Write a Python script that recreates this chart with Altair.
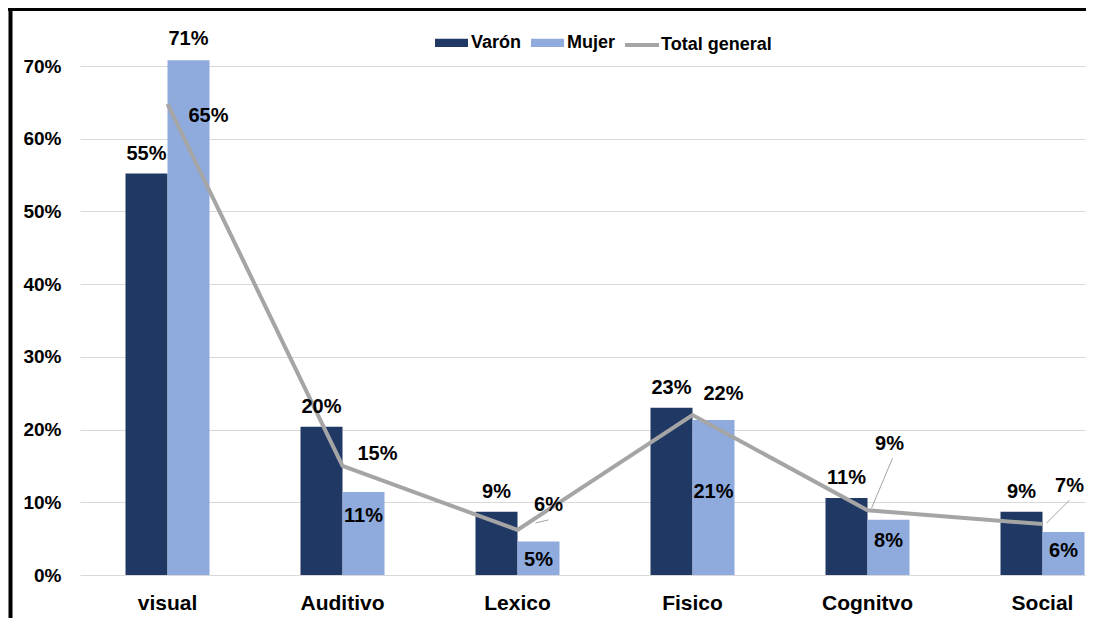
import altair as alt
import pandas as pd

CATEGORIES = ["visual", "Auditivo", "Lexico", "Fisico", "Cognitvo", "Social"]
SERIES = ["Varón", "Mujer"]
VARON = [0.552, 0.204, 0.087, 0.230, 0.106, 0.087]
MUJER = [0.708, 0.114, 0.046, 0.213, 0.076, 0.059]
TOTAL = [0.648, 0.150, 0.062, 0.220, 0.089, 0.070]
Y_TICKS = [0, 0.1, 0.2, 0.3, 0.4, 0.5, 0.6, 0.7]

# label placement (pixels)
VARON_LABEL_DY = -14
MUJER_LABEL_DY = [-15, 30, 24, 78, 27, 25]
TOTAL_LABEL_DX = [41, 35, 31, 31, 22, 27]
TOTAL_LABEL_DY = [18, -6, -19, -15, -60, -32]
LEADERS = {"Lexico": (18, -7, 31, -10), "Cognitvo": (4, -2, 25, -52), "Social": (4, -1, 27, -24)}

NAVY = "#203864"
LIGHT = "#8FAADC"
GRAY = "#A5A5A5"
FONT = "Liberation Sans"

bars_df = pd.DataFrame(
    [{"cat": c, "series": "Varón", "value": v} for c, v in zip(CATEGORIES, VARON)]
    + [{"cat": c, "series": "Mujer", "value": v} for c, v in zip(CATEGORIES, MUJER)]
)
total_df = pd.DataFrame({"cat": CATEGORIES, "series": ["Total general"] * 6, "value": TOTAL})

x_enc = alt.X(
    "cat:N", sort=CATEGORIES, title=None,
    scale=alt.Scale(range=[0, 1050], paddingInner=0, paddingOuter=0),
    axis=alt.Axis(labelAngle=0, labelFontSize=21, labelFont=FONT, labelFontWeight="bold",
                  labelColor="black", ticks=False, tickSize=0, domain=False, grid=False,
                  labelPadding=17),
)
y_enc = alt.Y(
    "value:Q", title=None,
    scale=alt.Scale(domain=[0, 0.7], nice=False, zero=True),
    axis=alt.Axis(format=".0%", values=Y_TICKS, labelFontSize=19, labelFont=FONT,
                  labelFontWeight="bold", labelColor="black", ticks=False, tickSize=0,
                  domain=False, grid=True, gridColor="#D9D9D9", gridWidth=1, labelPadding=19),
)
xoff = alt.XOffset("series:N", sort=SERIES,
                   scale=alt.Scale(domain=SERIES, range=[45.5, 129.5],
                                   paddingInner=0, paddingOuter=0))

bars = alt.Chart(bars_df).mark_bar().encode(
    x=x_enc, y=y_enc, xOffset=xoff,
    color=alt.Color("series:N", sort=SERIES,
                    scale=alt.Scale(domain=SERIES, range=[NAVY, LIGHT]),
                    legend=alt.Legend(title=None, orient="none", direction="horizontal",
                                      legendX=355, legendY=-40, padding=0,
                                      symbolType="M-1,-0.25H1V0.25H-1Z", symbolSize=1089,
                                      symbolStrokeWidth=0, labelFontSize=18, labelFont=FONT,
                                      labelFontWeight="bold", labelColor="black",
                                      labelOffset=3, columnPadding=9)),
)

line = alt.Chart(total_df).mark_line(strokeWidth=4).encode(
    x=alt.X("cat:N", sort=CATEGORIES),
    y=alt.Y("value:Q"),
    stroke=alt.Stroke("series:N",
                      scale=alt.Scale(domain=["Total general"], range=[GRAY]),
                      legend=alt.Legend(title=None, orient="none", direction="horizontal",
                                        legendX=543, legendY=-40, padding=0,
                                        symbolType="stroke", symbolSize=1156,
                                        symbolStrokeWidth=4, labelFontSize=18, labelFont=FONT,
                                        labelFontWeight="bold", labelColor="black",
                                        labelOffset=0)),
)

text_style = dict(font=FONT, fontSize=20, fontWeight="bold", color="black",
                  align="center", baseline="alphabetic")

varon_labels = alt.Chart(bars_df).transform_filter(alt.datum.series == "Varón").mark_text(
    dy=VARON_LABEL_DY, **text_style
).encode(x=alt.X("cat:N", sort=CATEGORIES), xOffset=alt.XOffset("series:N", sort=SERIES),
         y="value:Q", text=alt.Text("value:Q", format=".0%"))

layers = [bars, line, varon_labels]

for c, dy in zip(CATEGORIES, MUJER_LABEL_DY):
    layers.append(
        alt.Chart(bars_df).transform_filter(
            (alt.datum.series == "Mujer") & (alt.datum.cat == c)
        ).mark_text(dy=dy, **text_style).encode(
            x=alt.X("cat:N", sort=CATEGORIES), xOffset=alt.XOffset("series:N", sort=SERIES),
            y="value:Q", text=alt.Text("value:Q", format=".0%"))
    )

for c, dx, dy in zip(CATEGORIES, TOTAL_LABEL_DX, TOTAL_LABEL_DY):
    layers.append(
        alt.Chart(total_df).transform_filter(alt.datum.cat == c).mark_text(
            dx=dx, dy=dy, **text_style
        ).encode(x=alt.X("cat:N", sort=CATEGORIES), y="value:Q",
                 text=alt.Text("value:Q", format=".0%"))
    )

for c, (x1, y1, x2, y2) in LEADERS.items():
    layers.append(
        alt.Chart(total_df).transform_filter(alt.datum.cat == c).mark_rule(
            color=GRAY, strokeWidth=1, xOffset=x1, yOffset=y1, x2Offset=x2, y2Offset=y2
        ).encode(x=alt.X("cat:N", sort=CATEGORIES), x2=alt.X2("cat"),
                 y="value:Q", y2=alt.Y2("value"))
    )

frame_data = alt.Data(values=[{"k": 1}])
frame_left = alt.Chart(frame_data).mark_rule(color="black", strokeWidth=4).encode(
    x=alt.value(-69.5), y=alt.value(-60), y2=alt.value(560))
frame_top = alt.Chart(frame_data).mark_rule(color="black", strokeWidth=4).encode(
    x=alt.value(-72), x2=alt.value(1010), y=alt.value(-57))
layers += [frame_left, frame_top]

chart = alt.layer(*layers).resolve_legend(color="independent", stroke="independent").properties(
    width=1006, height=509,
    autosize=alt.AutoSizeParams(type="none"),
    padding={"left": 72, "top": 58, "right": 0, "bottom": 43},
    background="white",
).configure_view(stroke=None)

chart.save("out.html", embed_options={"renderer": "svg", "actions": False})
